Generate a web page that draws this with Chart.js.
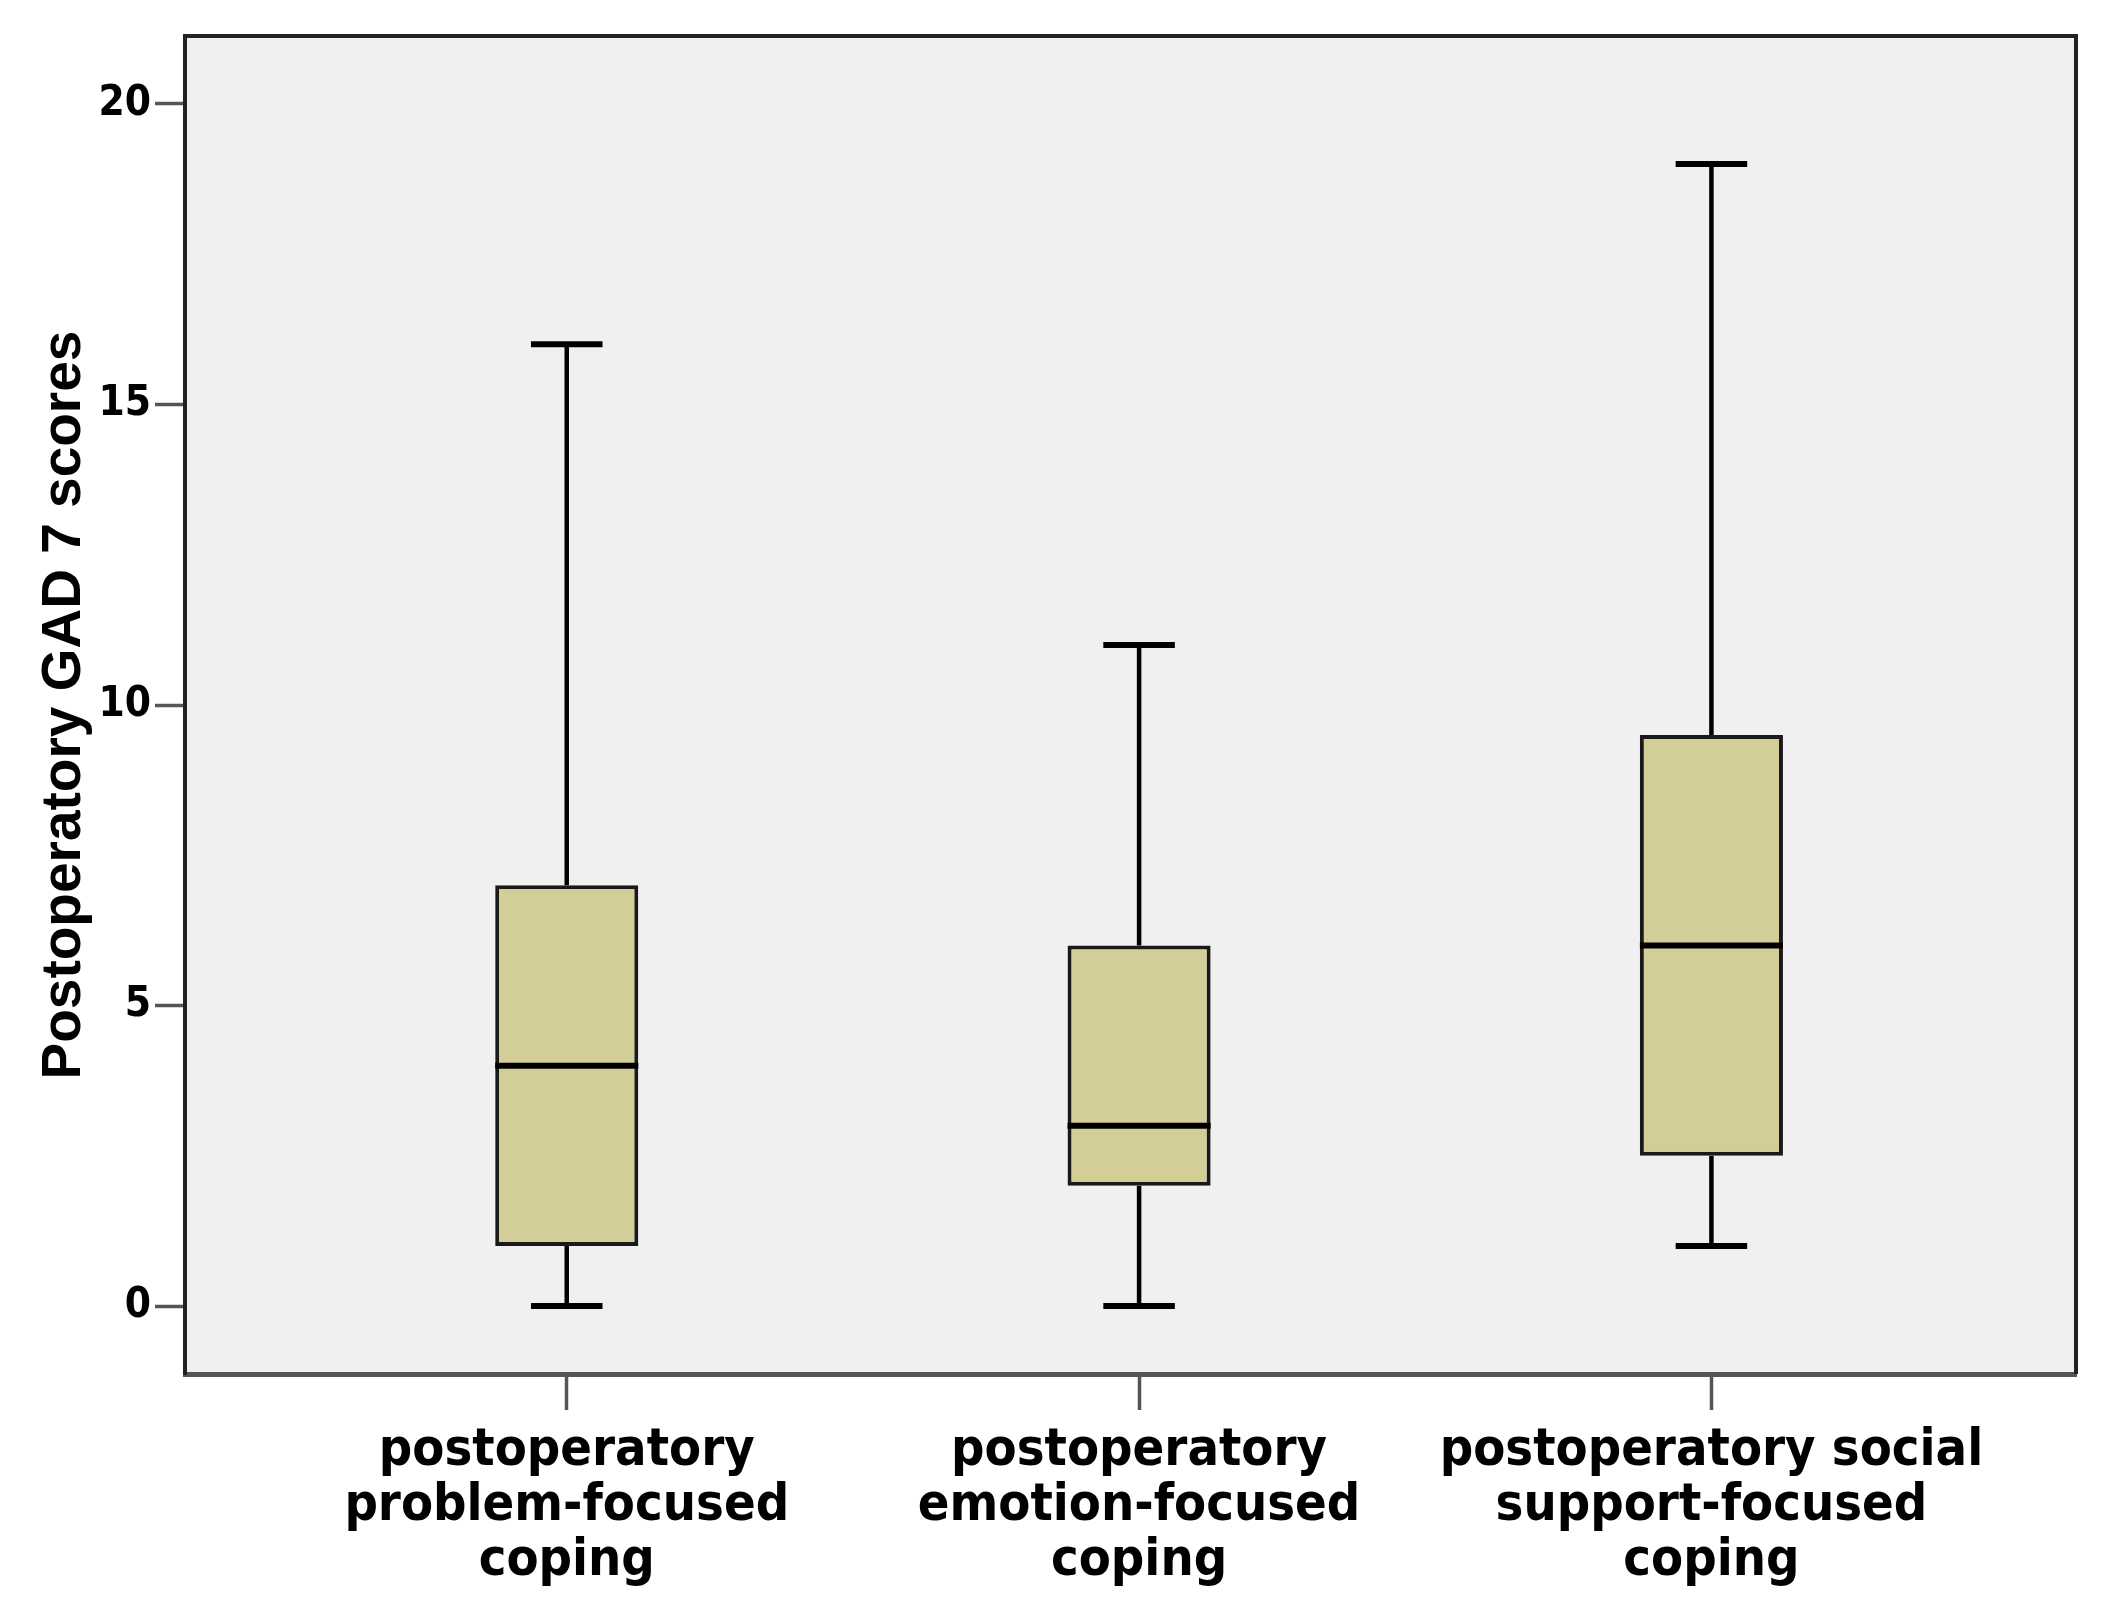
<!DOCTYPE html>
<html>
<head>
<meta charset="utf-8">
<script src="https://cdn.jsdelivr.net/npm/chart.js@4"></script>
<style>
    body { margin: 0; background: #ffffff; }
    #chart { display: block; }
</style>
</head>
<body>
<canvas id="chart" width="2116" height="1618"></canvas>
<script>
const categories = [
    ['postoperatory', 'problem-focused', 'coping'],
    ['postoperatory', 'emotion-focused', 'coping'],
    ['postoperatory social', 'support-focused', 'coping']
];
const mins = [0, 0, 1];
const q1s = [1, 2, 2.5];
const medians = [4, 3, 6];
const q3s = [7, 6, 9.5];
const maxs = [16, 11, 19];
const yTicks = [0, 5, 10, 15, 20];

const narrowFont = '"DejaVu Sans Condensed", "Liberation Sans Narrow", sans-serif';

// grey plot background + top/right frame lines
const plotFrame = {
    id: 'plotFrame',
    beforeDraw(chart) {
        const { ctx, chartArea: a } = chart;
        ctx.save();
        ctx.fillStyle = '#f0f0f0';
        ctx.fillRect(a.left, a.top, a.right - a.left, a.bottom - a.top);
        ctx.restore();
    },
    afterDraw(chart) {
        const { ctx, chartArea: a } = chart;
        ctx.save();
        ctx.strokeStyle = '#222222';
        ctx.lineWidth = 4;
        ctx.beginPath();
        ctx.moveTo(a.left, a.top);
        ctx.lineTo(a.right, a.top);
        ctx.lineTo(a.right, a.bottom);
        ctx.stroke();
        ctx.restore();
    }
};

// whiskers, caps and medians drawn on top of the boxes
const boxExtras = {
    id: 'boxExtras',
    afterDatasetsDraw(chart) {
        const { ctx, scales: { y } } = chart;
        const meta = chart.getDatasetMeta(0);
        ctx.save();
        ctx.strokeStyle = '#000000';
        meta.data.forEach((bar, i) => {
            const half = bar.width / 2;
            const capHalf = half * 0.5;
            const yMin = y.getPixelForValue(mins[i]);
            const yQ1 = y.getPixelForValue(q1s[i]);
            const yQ3 = y.getPixelForValue(q3s[i]);
            const yMax = y.getPixelForValue(maxs[i]);
            const yMed = y.getPixelForValue(medians[i]);

            ctx.lineWidth = 4.5;
            ctx.beginPath();
            ctx.moveTo(bar.x, yQ3);
            ctx.lineTo(bar.x, yMax);
            ctx.moveTo(bar.x, yQ1);
            ctx.lineTo(bar.x, yMin);
            ctx.stroke();

            ctx.lineWidth = 6;
            ctx.beginPath();
            ctx.moveTo(bar.x - capHalf, yMax);
            ctx.lineTo(bar.x + capHalf, yMax);
            ctx.moveTo(bar.x - capHalf, yMin);
            ctx.lineTo(bar.x + capHalf, yMin);
            ctx.stroke();

            ctx.lineWidth = 6;
            ctx.beginPath();
            ctx.moveTo(bar.x - half, yMed);
            ctx.lineTo(bar.x + half, yMed);
            ctx.stroke();
        });
        ctx.restore();
    }
};

new Chart(document.getElementById('chart'), {
    type: 'bar',
    data: {
        datasets: [{
            data: q1s.map((q, i) => ({ x: i + 1, y: [q, q3s[i]] })),
            backgroundColor: '#d3ce98',
            borderColor: '#1a1a1a',
            borderWidth: 4,
            borderSkipped: false,
            barPercentage: 0.25,
            categoryPercentage: 1
        }]
    },
    options: {
        responsive: false,
        animation: false,
        devicePixelRatio: 1,
        layout: { padding: { top: 36, right: 40, left: 0, bottom: 0 } },
        plugins: {
            legend: { display: false },
            tooltip: { enabled: false }
        },
        scales: {
            x: {
                type: 'linear',
                offset: false,
                min: 0.333,
                max: 3.637,
                afterBuildTicks: (axis) => { axis.ticks = [1, 2, 3].map(v => ({ value: v })); },
                afterFit: (axis) => { axis.height = 244; },
                grid: { offset: false, drawOnChartArea: false, tickLength: 36, tickColor: '#555555', tickWidth: 3.5 },
                border: { color: '#555555', width: 5 },
                ticks: {
                    autoSkip: false,
                    maxRotation: 0,
                    padding: 14,
                    color: '#000000',
                    font: { family: narrowFont, size: 52, weight: 'bold', lineHeight: 1.06 },
                    callback: (value) => categories[value - 1]
                }
            },
            y: {
                min: -1.13,
                max: 21.13,
                afterBuildTicks: (axis) => { axis.ticks = yTicks.map(v => ({ value: v })); },
                afterFit: (axis) => { axis.width = 185; },
                grid: { drawOnChartArea: false, tickLength: 30, tickColor: '#555555', tickWidth: 3.5 },
                border: { color: '#222222', width: 4 },
                ticks: {
                    padding: 4,
                    color: '#000000',
                    font: { family: narrowFont, size: 42, weight: 'bold' }
                },
                title: {
                    display: true,
                    text: 'Postoperatory GAD 7 scores',
                    color: '#000000',
                    padding: { top: 32, bottom: 0 },
                    font: { family: '"Liberation Sans", Arial, sans-serif', size: 55, weight: 'bold' }
                }
            }
        }
    },
    plugins: [plotFrame, boxExtras]
});
</script>
</body>
</html>
